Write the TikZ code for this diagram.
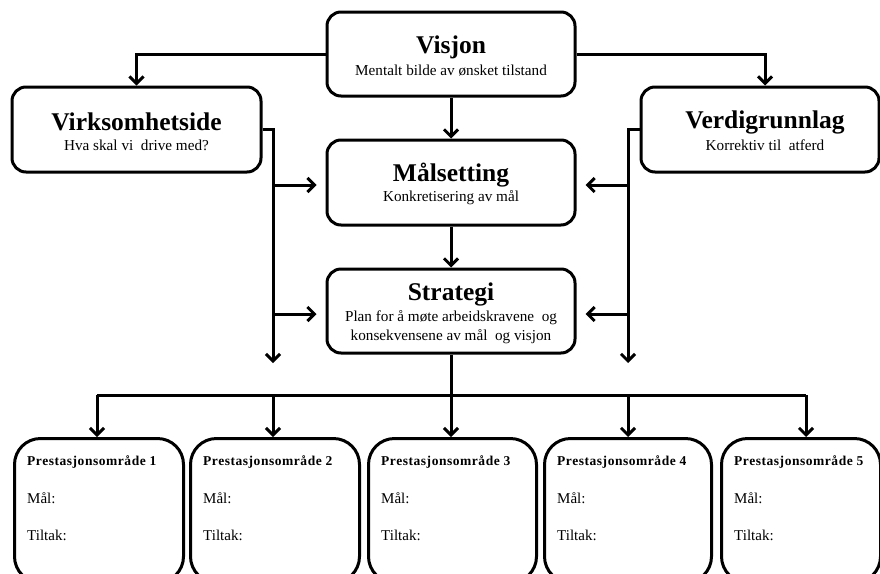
\documentclass[tikz,border=0pt]{standalone}
\usepackage{fontspec}
\setmainfont{Liberation Serif}
\usetikzlibrary{arrows.meta}
\begin{document}
\begin{tikzpicture}[x=1pt,y=-1pt,
  box/.style={draw, line width=3pt, rounded corners=14pt, inner sep=0pt},
  goal/.style={draw, line width=3pt, rounded corners=26pt, inner sep=0pt, anchor=north west, minimum height=144pt},
  wire/.style={line width=3pt},
  link/.style={line width=3pt, -{Straight Barb[length=7pt,width=14pt]}},
  ttl/.style={font=\fontsize{25.5}{28}\selectfont\bfseries, inner sep=0pt},
  sub/.style={font=\fontsize{15.2}{18.5}\selectfont, inner sep=0pt, align=center},
  gttl/.style={font=\fontsize{13.5}{16}\selectfont\bfseries, inner sep=0pt, anchor=west},
  gtxt/.style={font=\fontsize{15}{17}\selectfont, inner sep=0pt, anchor=west},
]
\clip (0,0) rectangle (880,573);
\fill[white] (0,0) rectangle (880,573);

% upper boxes
\node[box, minimum width=248pt, minimum height=84pt] (vis) at (451,54) {};
\node[box, minimum width=249pt, minimum height=85pt] (virk) at (136.5,129.5) {};
\node[box, minimum width=238pt, minimum height=85pt] (verd) at (760,129.5) {};
\node[box, minimum width=248pt, minimum height=85pt] (mal) at (451,182.5) {};
\node[box, minimum width=248pt, minimum height=84pt] (strat) at (451,311) {};

% titles and subtitles
\node[ttl] (visT) at (451,47) {Visjon};
\node[sub] (visS) at (451,71) {Mentalt bilde av ønsket tilstand};
\node[ttl] (virkT) at (136.5,122) {Virksomhetside};
\node[sub] (virkS) at (136.5,145) {Hva skal vi\ \ drive med?};
\node[ttl] (verdT) at (765,122) {Verdigrunnlag};
\node[sub] (verdS) at (765,145) {Korrektiv til\ \ atferd};
\node[ttl] (malT) at (451,175) {Målsetting};
\node[sub] (malS) at (451,198) {Konkretisering av mål};
\node[ttl] (stratT) at (451,294) {Strategi};
\node[sub] (stratS) at (451,327) {Plan for å møte arbeidskravene\ \ og\\konsekvensene av mål\ \ og visjon};

% performance area boxes
\foreach \i/\x/\w in {1/13/169, 2/189/169, 3/367/168, 4/543/167, 5/720/159} {
  \node[goal, minimum width=\w pt] (p\i) at (\x,437) {};
  \node[gttl] (p\i T) at (\x+14,462) {\addfontfeature{LetterSpace=4}Prestasjonsområde \i};
  \node[gtxt] (p\i M) at (\x+14,498) {Mål:};
  \node[gtxt] (p\i A) at (\x+14,535) {Tiltak:};
}

% connectors from the vision
\draw[link] (vis.west) -| (virk.north);
\draw[link] (vis.east) -| (verd.north -| 765,0);
\draw[link] (vis.south) -- (mal.north);
\draw[link] (mal.south) -- (strat.north);

% side buses
\coordinate (lb) at (273,363);
\coordinate (rb) at (628,363);
\draw[link] (virk.east) -| (lb);
\draw[link] (verd.west) -| (rb);
\draw[link, shorten >=9pt] (273,185) -- (mal.west |- 0,185);
\draw[link, shorten >=9pt] (273,314) -- (strat.west |- 0,314);
\draw[link, shorten >=9pt] (628,185) -- (mal.east |- 0,185);
\draw[link, shorten >=9pt] (628,314) -- (strat.east |- 0,314);

% distribution to the performance areas
\coordinate (hub) at (451,395);
\draw[wire] (strat.south) -- (hub);
\draw[wire] (97,395) -- (806,395);
\foreach \i/\x in {1/97, 2/273, 3/451, 4/628, 5/806}
  \draw[link] (\x,395) -- (p\i.north -| \x,0);
\end{tikzpicture}
\end{document}
